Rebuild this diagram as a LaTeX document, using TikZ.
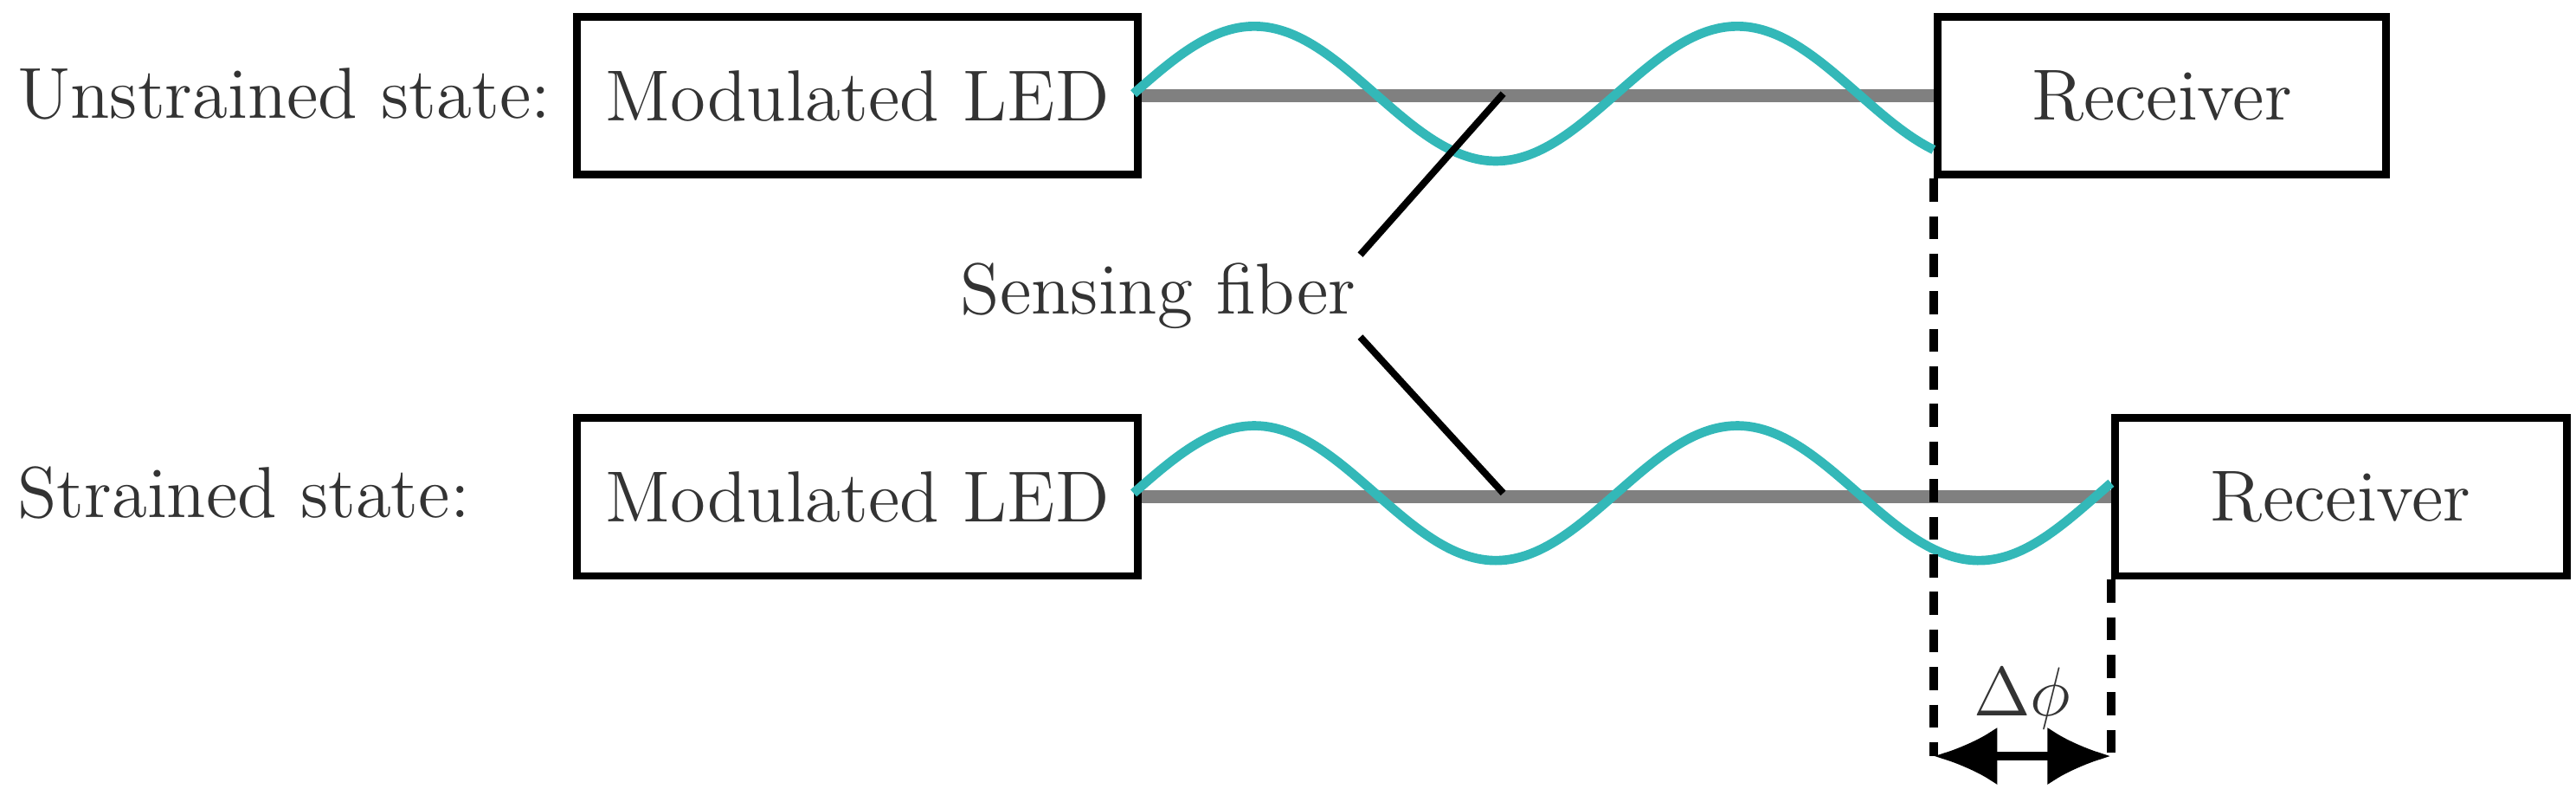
\documentclass[tikz,border=0pt]{standalone}
\usetikzlibrary{arrows.meta}
\begin{document}
\begin{tikzpicture}[x=0.01cm,y=-0.01cm,
  box/.style={draw,line width=1.3pt,anchor=north west,inner sep=0pt,minimum height=0.96cm,text=black!80,font=\fontsize{12.5}{15}\selectfont},
  lab/.style={font=\fontsize{12.5}{15}\selectfont,text=black!80,inner sep=0pt},
  fiber/.style={draw=gray,line width=2.2pt},
  wave/.style={draw=teal!70!cyan!80!white,line width=1.6pt},
  dsh/.style={line width=1.6pt,dash pattern=on 4pt off 2.5pt}]
\useasboundingbox (0,0) rectangle (1568,480);
\node[box,minimum width=3.41cm] (led1) at (349,8) {Modulated LED};
\node[box,minimum width=2.73cm] (rx1) at (1177,8) {Receiver};
\node[box,minimum width=3.41cm] (led2) at (349,252) {Modulated LED};
\node[box,minimum width=2.75cm] (rx2) at (1285,252) {Receiver};
\node[lab,anchor=west] (u) at (10,57) {Unstrained state:};
\node[lab,anchor=west] (s) at (10,300) {Strained state:};
\node[lab] (sf) at (705,180) {Sensing fiber};
\path[fiber] (led1.east) -- (rx1.west);
\path[fiber] (led2.east) -- (rx2.west);
\path[wave] plot[domain=0:487,samples=120,smooth] ({\x+690},{57-41*sin(1.22449*\x)});
\path[wave] plot[domain=0:595,samples=140,smooth] ({\x+690},{300-41*sin(1.22449*\x)});
\coordinate (f1) at (915,57);
\coordinate (f2) at (915,300);
\draw[line width=1.2pt] (828,155) -- (f1);
\draw[line width=1.2pt] (828,205) -- (f2);
\coordinate (d1) at (1177,460);
\coordinate (d2) at (1285,460);
\draw[dsh] (rx1.south west) -- (d1);
\draw[dsh] (rx2.south west) -- (d2);
\draw[line width=1.6pt,{Latex[length=11pt,width=10pt]}-{Latex[length=11pt,width=10pt]}] (d1) -- (d2);
\node[lab] (phi) at (1231,425) {$\Delta\phi$};
\end{tikzpicture}
\end{document}
